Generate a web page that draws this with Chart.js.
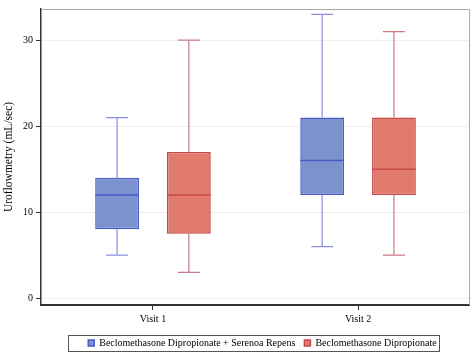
<!DOCTYPE html>
<html>
<head>
<meta charset="utf-8">
<script src="https://cdn.jsdelivr.net/npm/chart.js@4.4.1/dist/chart.umd.min.js"></script>
<style>
  body { margin: 0; background: #fff; }
  canvas { display: block; }
</style>
</head>
<body>
<canvas id="uroChart" width="472" height="353"></canvas>
<script>
const visits = ['Visit 1', 'Visit 2'];
const yTicks = [0, 10, 20, 30];

// Beclomethasone Dipropionate + Serenoa Repens
const comboMin = [5, 6];
const comboQ1 = [8, 12];
const comboMedian = [12, 16];
const comboQ3 = [14, 21];
const comboMax = [21, 33];

// Beclomethasone Dipropionate
const bdpMin = [3, 5];
const bdpQ1 = [7.5, 12];
const bdpMedian = [12, 15];
const bdpQ3 = [17, 21];
const bdpMax = [30, 31];

const serif = 'Liberation Serif';
const legendShiftX = 28;
const legendShiftY = 4;

function boxData(q1, q3) {
    return visits.map((v, i) => ({x: i + 1, y: [q1[i], q3[i]]}));
}

// whiskers, caps and median lines on top of the floating bars
const whiskerPlugin = {
    id: 'whiskers',
    afterLayout(chart) {
        // legend sits under the plot, a bit right of centre
        const lg = chart.legend;
        lg.left += legendShiftX; lg.right += legendShiftX;
        lg.top += legendShiftY; lg.bottom += legendShiftY;
    },
    afterDatasetsDraw(chart) {
        const ctx = chart.ctx;
        const yScale = chart.scales.y;
        chart.data.datasets.forEach((ds, di) => {
            const meta = chart.getDatasetMeta(di);
            meta.data.forEach((bar, i) => {
                const x = bar.x;
                const half = bar.width / 2;
                const yLow = yScale.getPixelForValue(ds.low[i]);
                const yHigh = yScale.getPixelForValue(ds.high[i]);
                const yQ1 = yScale.getPixelForValue(ds.data[i].y[0]);
                const yQ3 = yScale.getPixelForValue(ds.data[i].y[1]);
                const yMed = yScale.getPixelForValue(ds.median[i]);
                ctx.save();
                ctx.strokeStyle = ds.whiskerColor;
                ctx.lineWidth = 1.2;
                ctx.beginPath();
                ctx.moveTo(x, yQ3); ctx.lineTo(x, yHigh);
                ctx.moveTo(x, yQ1); ctx.lineTo(x, yLow);
                ctx.moveTo(x - half / 2, yHigh); ctx.lineTo(x + half / 2, yHigh);
                ctx.moveTo(x - half / 2, yLow); ctx.lineTo(x + half / 2, yLow);
                ctx.stroke();
                ctx.strokeStyle = ds.borderColor;
                ctx.lineWidth = 1.5;
                ctx.beginPath();
                ctx.moveTo(x - half, yMed); ctx.lineTo(x + half, yMed);
                ctx.stroke();
                ctx.restore();
            });
        });
    },
    afterDraw(chart) {
        const ctx = chart.ctx;
        const a = chart.chartArea;
        ctx.save();
        // light top and right frame
        ctx.strokeStyle = '#a8a8a8';
        ctx.lineWidth = 1;
        ctx.beginPath();
        ctx.moveTo(a.left, a.top + 0.5); ctx.lineTo(a.right + 0.5, a.top + 0.5);
        ctx.lineTo(a.right + 0.5, a.bottom);
        ctx.stroke();
        // box around the legend
        const hb = chart.legend.legendHitBoxes;
        if (hb && hb.length) {
            const first = hb[0], last = hb[hb.length - 1];
            const left = first.left - 20;
            const right = last.left + last.width + 3;
            const top = first.top - 3;
            const bottom = first.top + first.height + 3;
            ctx.strokeStyle = '#555';
            ctx.strokeRect(Math.round(left) + 0.5, Math.round(top) + 0.5,
                Math.round(right - left), Math.round(bottom - top));
        }
        ctx.restore();
    }
};

const data = {
    datasets: [
        {
            label: 'Beclomethasone Dipropionate + Serenoa Repens',
            data: boxData(comboQ1, comboQ3),
            low: comboMin,
            high: comboMax,
            median: comboMedian,
            backgroundColor: '#7b92cf',
            borderColor: '#4a5bc8',
            whiskerColor: '#8a8ee2',
            borderWidth: 1.5,
            borderSkipped: false
        },
        {
            label: 'Beclomethasone Dipropionate',
            data: boxData(bdpQ1, bdpQ3),
            low: bdpMin,
            high: bdpMax,
            median: bdpMedian,
            backgroundColor: '#e07b6e',
            borderColor: '#c64848',
            whiskerColor: '#c97a84',
            borderWidth: 1.5,
            borderSkipped: false
        }
    ]
};

const config = {
    type: 'bar',
    data: data,
    options: {
        responsive: false,
        animation: false,
        categoryPercentage: 0.7,
        barPercentage: 0.61,
        layout: {
            padding: {top: 2, right: 3, left: 0, bottom: 1}
        },
        scales: {
            x: {
                type: 'linear',
                offset: false,
                min: 0.454,
                max: 2.541,
                afterBuildTicks: s => { s.ticks = visits.map((v, i) => ({value: i + 1})); },
                afterFit: s => { s.height = 20; },
                ticks: {
                    callback: v => visits[v - 1],
                    color: '#000',
                    font: {family: serif, size: 10},
                    padding: 3
                },
                grid: {
                    offset: false,
                    drawOnChartArea: false,
                    tickColor: '#333',
                    tickLength: 5
                },
                border: {color: '#333', width: 2}
            },
            y: {
                min: -0.8,
                max: 33.63,
                afterBuildTicks: s => { s.ticks = yTicks.map(v => ({value: v})); },
                afterFit: s => { s.width = 41; },
                ticks: {
                    color: '#000',
                    font: {family: serif, size: 10},
                    padding: 3
                },
                grid: {
                    color: '#eeeeee',
                    tickColor: '#333',
                    tickLength: 5
                },
                border: {color: '#333', width: 1.5},
                title: {
                    display: true,
                    text: 'Uroflowmetry (mL/sec)',
                    color: '#000',
                    font: {family: serif, size: 11.5},
                    padding: {top: 2, bottom: 3}
                }
            }
        },
        plugins: {
            legend: {
                position: 'bottom',
                align: 'center',
                maxHeight: 27,
                labels: {
                    boxWidth: 6,
                    boxHeight: 6,
                    padding: 9,
                    color: '#000',
                    font: {family: serif, size: 10}
                }
            },
            tooltip: {enabled: false}
        }
    },
    plugins: [whiskerPlugin]
};

new Chart('uroChart', config);
</script>
</body>
</html>
